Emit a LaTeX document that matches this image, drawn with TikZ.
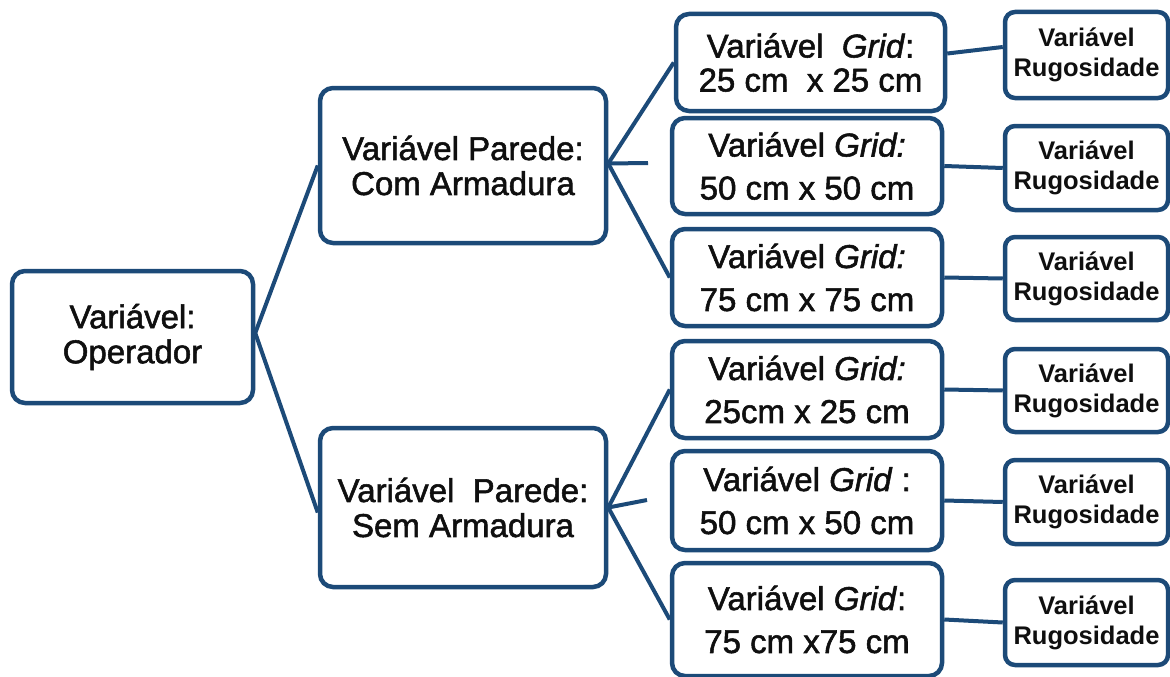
\documentclass[tikz,border=0pt]{standalone}
\usepackage{fontspec}
\setmainfont{Liberation Sans}
\newfontfamily\medfont{Liberation Sans}[FakeBold=1.6]
\definecolor{navy}{RGB}{28,74,120}
\definecolor{ink}{RGB}{15,15,15}
\begin{document}
\begin{tikzpicture}[x=1pt,y=-1pt,
  box/.style={draw=navy,line width=4.5pt,rounded corners=13pt,fill=white,align=center,text=ink,inner sep=0pt},
  big/.style={box,font=\medfont\fontsize{33}{35}\selectfont},
  grid/.style={box,font=\medfont\fontsize{33}{43}\selectfont,minimum width=270pt},
  rug/.style={box,rounded corners=10pt,font=\fontsize{25.5}{30}\selectfont\bfseries,minimum width=163pt},
  link/.style={draw=navy,line width=4pt}]
\useasboundingbox (0,0) rectangle (1170,677);
% left and middle
\node[big,minimum width=241pt,minimum height=132pt] (op) at (132.5,337) {Variável:\\Operador};
\node[big,minimum width=286pt,minimum height=155pt] (com) at (463,165.5) {Variável Parede:\\Com Armadura};
\node[big,minimum width=286pt,minimum height=159pt] (sem) at (463,507.5) {Variável\ \ Parede:\\Sem Armadura};
% grid boxes
\node[grid,font=\medfont\fontsize{33}{34}\selectfont,minimum width=269pt,minimum height=97pt] (g1) at (810.5,62.5) {Variável\ \ \textit{Grid}:\\25 cm\ \ x 25 cm};
\node[grid,minimum height=96pt] (g2) at (807,166) {Variável \textit{Grid:}\\50 cm x 50 cm};
\node[grid,minimum height=97pt] (g3) at (807,277.5) {Variável \textit{Grid:}\\75 cm x 75 cm};
\node[grid,minimum height=97pt] (g4) at (807,389.5) {Variável \textit{Grid:}\\25cm x 25 cm};
\node[grid,minimum height=99pt] (g5) at (807,500.5) {Variável \textit{Grid} :\\50 cm x 50 cm};
\node[grid,minimum height=113pt] (g6) at (807,619.5) {Variável \textit{Grid}:\\75 cm x75 cm};
% rugosidade boxes
\node[rug,minimum height=86pt] (r1) at (1086.5,55) {Variável\\Rugosidade};
\node[rug,minimum height=84pt] (r2) at (1086.5,168) {Variável\\Rugosidade};
\node[rug,minimum height=83pt] (r3) at (1086.5,278.5) {Variável\\Rugosidade};
\node[rug,minimum height=83pt] (r4) at (1086.5,390.5) {Variável\\Rugosidade};
\node[rug,minimum height=84pt] (r5) at (1086.5,502) {Variável\\Rugosidade};
\node[rug,minimum height=85pt] (r6) at (1086.5,622.5) {Variável\\Rugosidade};
% stubs
\coordinate (s1) at (648,163);
\coordinate (s2) at (647,500);
% connectors
\draw[link] ([yshift=4pt]op.east) -- (com.west);
\draw[link] ([yshift=4pt]op.east) -- ([yshift=-5pt]sem.west);
\draw[link] ([yshift=2pt]com.east) -- (g1.west);
\draw[link] ([yshift=2pt]com.east) -- (s1);
\draw[link] ([yshift=2pt]com.east) -- (g3.west);
\draw[link] (sem.east) -- (g4.west);
\draw[link] (sem.east) -- (s2);
\draw[link] (sem.east) -- (g6.west);
\draw[link] ([yshift=9pt]g1.east) -- ([yshift=8pt]r1.west);
\draw[link] (g2.east) -- (r2.west);
\draw[link] (g3.east) -- (r3.west);
\draw[link] (g4.east) -- (r4.west);
\draw[link] (g5.east) -- (r5.west);
\draw[link] (g6.east) -- (r6.west);
\end{tikzpicture}
\end{document}
